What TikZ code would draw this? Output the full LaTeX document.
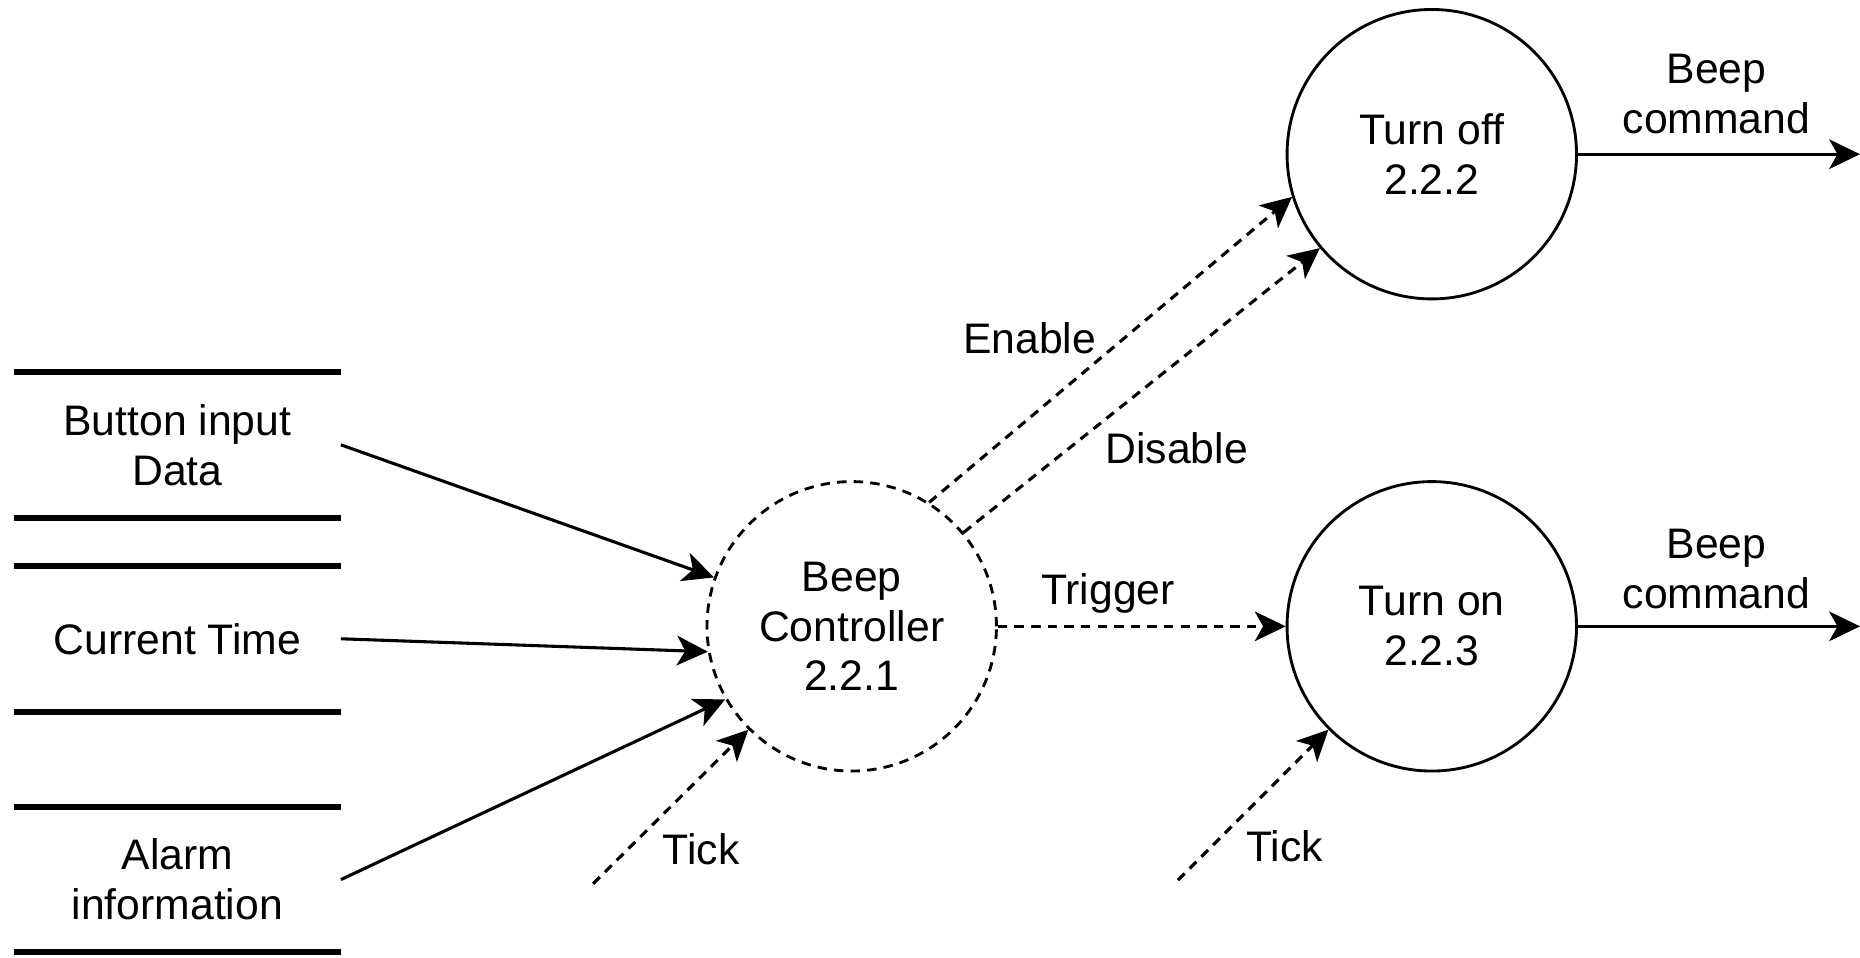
\documentclass[tikz,border=0pt]{standalone}
\usepackage{fontspec}
\setmainfont{Liberation Sans}
\usetikzlibrary{arrows.meta}

\tikzset{
  flow/.style={-{Stealth[length=13pt,width=12.5pt,inset=3.5pt]}, line width=1.3pt},
  dflow/.style={flow, dash pattern=on 4pt off 3pt},
  proc/.style={circle, draw, line width=1.2pt, minimum size=122pt, inner sep=0pt, align=center},
  store/.style={minimum width=137.5pt, minimum height=61pt, inner sep=0pt, align=center},
  bar/.style={line width=2.5pt},
  lbl/.style={align=center},
}

\begin{document}
\begin{tikzpicture}[x=0.5pt, y=-0.5pt, font=\fontsize{18}{21}\selectfont]
    \useasboundingbox (0,0) rectangle (1568,807);

    % Data stores
    \node[store] (btn) at (149.5,375) {Button input\\Data};
    \node[store] (time) at (149.5,538.5) {Current Time};
    \node[store] (alarm) at (149.5,741.5) {Alarm\\information};
    \foreach \s in {btn,time,alarm} {
        \draw[bar] (\s.north west) -- (\s.north east);
        \draw[bar] (\s.south west) -- (\s.south east);
    }

    % Processes
    \node[proc, dash pattern=on 4pt off 3pt] (ctrl) at (718,528) {Beep\\Controller\\2.2.1};
    \node[proc] (off) at (1207,130) {Turn off\\2.2.2};
    \node[proc] (on) at (1207,528) {Turn on\\2.2.3};

    % Free ends
    \coordinate (tickA) at (500,745);
    \coordinate (tickB) at (993,742);
    \coordinate (outA) at (1568,130);
    \coordinate (outB) at (1568,528);

    % Flows into the controller
    \draw[flow] (btn.east) -- (ctrl);
    \draw[flow] (time.east) -- (ctrl.190);
    \draw[flow] (alarm.east) -- (ctrl.210);
    \draw[dflow] (tickA) -- (ctrl.225);

    % Control flows
    \draw[dflow] (ctrl.58) -- (off.197);
    \draw[dflow] (ctrl.40) -- (off.220);
    \draw[dflow] (ctrl) -- (on);
    \draw[dflow] (tickB) -- (on.225);

    % Outputs
    \draw[flow] (off.east) -- (outA);
    \draw[flow] (on.east) -- (outB);

    % Labels
    \node (lenable) at (868,285) {Enable};
    \node (ldisable) at (992,378) {Disable};
    \node (ltrigger) at (934,500) {Trigger};
    \node (ltickA) at (591,716) {Tick};
    \node (ltickB) at (1083,713) {Tick};
    \node[lbl] (lbeepA) at (1447,79) {Beep\\command};
    \node[lbl] (lbeepB) at (1447,480) {Beep\\command};
\end{tikzpicture}
\end{document}
